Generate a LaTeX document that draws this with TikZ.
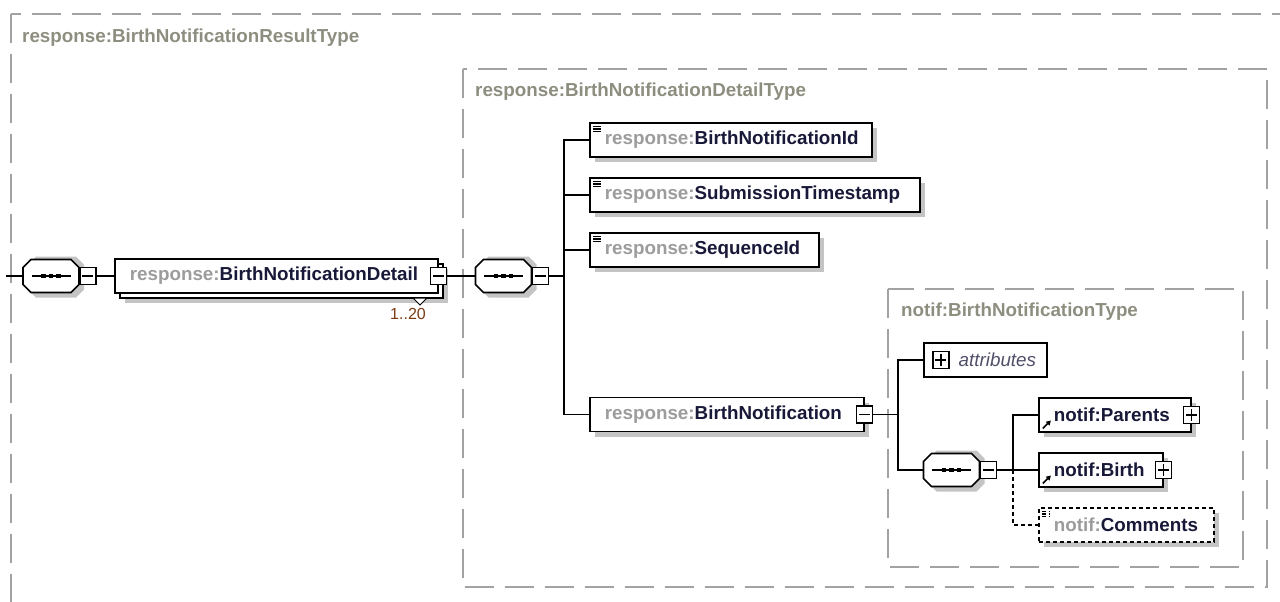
\documentclass[tikz,border=0pt]{standalone}
\usepackage{fontspec}
\setmainfont{Liberation Sans}
\usepackage{tikz}
\usetikzlibrary{arrows.meta, shadows, positioning}
\tikzset{>=stealth}

\definecolor{pfxgray}{HTML}{9C9C9C}
\definecolor{namenavy}{HTML}{181838}
\definecolor{framegray}{HTML}{A2A2A2}
\definecolor{labelgray}{HTML}{8E8E80}
\definecolor{shadegray}{HTML}{C4C4C4}
\definecolor{occbrown}{HTML}{7A3A12}
\definecolor{attrgray}{HTML}{50506A}

\newcommand{\pfx}[1]{\textcolor{pfxgray}{#1:}}
\newcommand{\elemfont}{\fontsize{18.8}{22}\selectfont\bfseries}
% sequence compositor: name, centre
\newcommand{\seqsym}[2]{%
  \node[seqnode] (#1) at (#2) {};
  \begin{scope}[shift={(#1.center)}]
    \fill[shadegray] (-23,-11.5) -- (-15,-19.5) -- (25,-19.5) -- (33,-11.5)
      -- (33,13.5) -- (25,21.5) -- (-15,21.5) -- (-23,13.5) -- cycle;
    \draw[fill=white, line width=1.7pt] (-28,-8.5) -- (-20,-16.5) -- (20,-16.5) -- (28,-8.5)
      -- (28,8.5) -- (20,16.5) -- (-20,16.5) -- (-28,8.5) -- cycle;
    \draw[line width=1.7pt] (-19.5,0) -- (19.5,0);
    \foreach \dx in {-7.5,0,7.5}
      \fill[black] (\dx-2.3,-2.3) rectangle (\dx+2.3,2.3);
  \end{scope}}

\tikzset{
  boxshadow/.style={drop shadow={shadow xshift=5pt, shadow yshift=-5pt, fill=shadegray, opacity=1}},
  elem/.style={draw, fill=white, anchor=west, inner xsep=15pt, inner ysep=0pt, minimum height=34pt,
    align=left, font=\elemfont, text=namenavy, line width=1.7pt, boxshadow},
  multi/.style={drop shadow={shadow xshift=10pt, shadow yshift=-10pt, fill=shadegray, opacity=1},
    copy shadow={shadow xshift=5pt, shadow yshift=-5pt}},
  docicon/.style={path picture={
      \foreach \dy in {3.5,6,8.5}
        \draw[line width=1.3pt] ([xshift=3pt, yshift=-\dy pt]path picture bounding box.north west) -- ++(8pt,0pt);}},
  reficon/.style={path picture={
      \draw[line width=1.6pt, -{Triangle[length=4.5pt, width=5pt]}]
        ([xshift=4pt, yshift=3.5pt]path picture bounding box.south west) -- ++(8pt,8pt);}},
  pmbox/.style={draw, fill=white, minimum width=16pt, minimum height=17pt, inner sep=0pt, line width=1.5pt},
  minusbox/.style={pmbox, path picture={
      \draw[line width=1.5pt] ([xshift=2.5pt]path picture bounding box.west) -- ([xshift=-2.5pt]path picture bounding box.east);}},
  plusbox/.style={pmbox, path picture={
      \draw[line width=1.5pt] ([xshift=2.5pt]path picture bounding box.west) -- ([xshift=-2.5pt]path picture bounding box.east);
      \draw[line width=1.5pt] ([yshift=-2.5pt]path picture bounding box.north) -- ([yshift=2.5pt]path picture bounding box.south);}},
  seqnode/.style={minimum width=56pt, minimum height=33pt, inner sep=0pt},
  typeframe/.style={draw=framegray, line width=1.5pt, dash pattern=on 29pt off 11pt},
  framelabel/.style={anchor=west, font=\elemfont, text=labelgray, inner sep=0pt},
  conn/.style={line width=1.7pt},
}

\begin{document}
\begin{tikzpicture}[x=1pt, y=-1pt]
        \useasboundingbox (0,0) rectangle (1280,602);

        % type frames
        \draw[typeframe] (11,14) rectangle (1300,650);
        \draw[typeframe] (463,69) rectangle (1267,587);
        \draw[typeframe] (888,289) rectangle (1243,567);
        \node[framelabel] (restype) at (22,38) {response:BirthNotificationResultType};
        \node[framelabel] (dettype) at (475,92) {response:BirthNotificationDetailType};
        \node[framelabel] (nottype) at (901,312) {notif:BirthNotificationType};

        % left part
        \coordinate (entry) at (6,276);
        \seqsym{seqa}{51,276}
        \node[minusbox, right=0pt of seqa] (ma) {};
        \node[elem, multi, text width=293pt] (detail) at (114,276) {\pfx{response}BirthNotificationDetail};
        \node[minusbox] (md) at (detail.east) {};
        \draw[fill=white, line width=1pt] (413,298) -- (427,298) -- (420,305) -- cycle;
        \node[font=\fontsize{16}{18}\selectfont, text=occbrown] (occ) at (408,314) {1..20};

        \draw[conn] (entry) -- (seqa);
        \draw[conn] (ma) -- (detail);

        % detail type content
        \seqsym{seqb}{503.5,276}
        \node[minusbox, right=0pt of seqb] (mb) {};
        \coordinate (tra) at (564,276);
        \draw[conn] (md) -- (seqb);

        \node[elem, docicon, text width=252pt] (bnid) at (589,140) {\pfx{response}BirthNotificationId};
        \node[elem, docicon, text width=300pt] (subts) at (589,195) {\pfx{response}SubmissionTimestamp};
        \node[elem, docicon, text width=199pt] (seqid) at (589,250) {\pfx{response}SequenceId};
        \node[elem, text width=244pt] (bnot) at (589,414.5) {\pfx{response}BirthNotification};
        \node[minusbox] (mn) at (bnot.east) {};

        \draw[conn] (mb) -- (tra);
        \draw[conn] (bnid.west) -| (tra) |- (bnot.west);
        \draw[conn] (subts.west) -- (subts.west -| tra);
        \draw[conn] (seqid.west) -- (seqid.west -| tra);

        % notif type content
        \coordinate (trb) at (898,414.5);
        \node[draw, fill=white, line width=1.7pt, anchor=west, minimum width=123pt, minimum height=34pt] (attr) at (923,360) {};
        \node[plusbox, anchor=west] (pa) at ([xshift=9pt]attr.west) {};
        \node[anchor=west, inner sep=0pt, text=attrgray, font=\fontsize{18.8}{22}\selectfont\itshape] (attrtxt) at ([xshift=9pt]pa.east) {attributes};
        \seqsym{seqc}{951.5,470}
        \node[minusbox, right=0pt of seqc] (mc) {};

        \draw[conn] (mn) -- (trb);
        \draw[conn] (attr.west) -| (trb) |- (seqc.west);

        \coordinate (trc) at (1013,470);
        \node[elem, reficon, text width=122pt] (parents) at (1038,415) {notif:Parents};
        \node[plusbox] (pp) at (parents.east) {};
        \node[elem, reficon, text width=94pt] (birth) at (1038,470) {notif:Birth};
        \node[plusbox] (pb) at (birth.east) {};
        \node[elem, docicon, dash pattern=on 4pt off 3pt, text width=145pt] (comments) at (1038,525) {\pfx{notif}Comments};

        \draw[conn] (mc) -- (trc);
        \draw[conn] (parents.west) -| (trc) -- (birth.west);
        \draw[conn, dash pattern=on 4pt off 3pt] (trc) |- (comments.west);

\end{tikzpicture}
\end{document}
